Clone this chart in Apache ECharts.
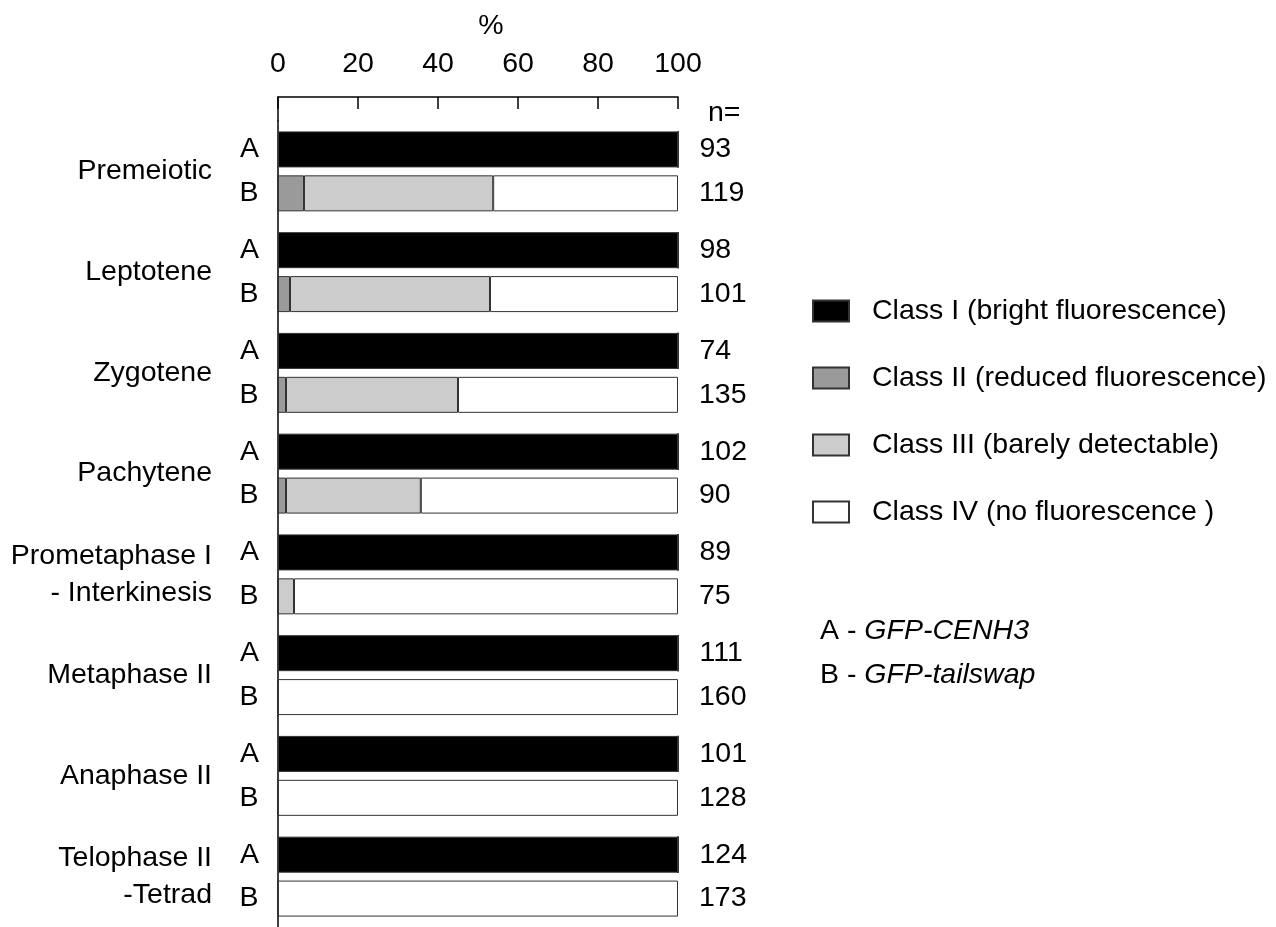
<!DOCTYPE html>
<html>
<head>
<meta charset="utf-8">
<script src="https://cdn.jsdelivr.net/npm/echarts@6/dist/echarts.min.js"></script>
<style>
  html, body { margin: 0; padding: 0; background: #fff; }
  #main { width: 1276px; height: 927px; }
</style>
</head>
<body>
<div id="main"></div>
<script>
// stages, top to bottom
const stages = ['Premeiotic', 'Leptotene', 'Zygotene', 'Pachytene',
  'Prometaphase I\n- Interkinesis', 'Metaphase II', 'Anaphase II', 'Telophase II\n-Tetrad'];

const classNames = ['Class I (bright fluorescence)', 'Class II (reduced fluorescence)',
  'Class III (barely detectable)', 'Class IV (no fluorescence )'];
const classColors = ['#000000', '#9a9a9a', '#cccccc', '#ffffff'];

// A - GFP-CENH3 (% of cells)
const classIA   = [100, 100, 100, 100, 100, 100, 100, 100];
const classIIA  = [0, 0, 0, 0, 0, 0, 0, 0];
const classIIIA = [0, 0, 0, 0, 0, 0, 0, 0];
const classIVA  = [0, 0, 0, 0, 0, 0, 0, 0];

// B - GFP-tailswap (% of cells)
const classIB   = [0, 0, 0, 0, 0, 0, 0, 0];
const classIIB  = [6.5, 3, 2, 2, 0, 0, 0, 0];
const classIIIB = [47.3, 50, 43, 33.7, 4, 0, 0, 0];
const classIVB  = [46.2, 47, 55, 64.3, 96, 100, 100, 100];

// n= counts
const nA = [93, 98, 74, 102, 89, 111, 101, 124];
const nB = [119, 101, 135, 90, 75, 160, 128, 173];

const FONT = 'Liberation Sans';
const FS = 28.5;

const chart = echarts.init(document.getElementById('main'));

function bar(stack, idx, data, extra) {
  const s = {
    name: classNames[idx],
    type: 'bar',
    stack: stack,
    xAxisIndex: 1,
    yAxisIndex: 1,
    barWidth: 36,
    barGap: '22%',
    data: data,
    itemStyle: { color: classColors[idx], borderColor: '#333', borderWidth: 1 },
    emphasis: { disabled: true },
    animation: false
  };
  return Object.assign(s, extra || {});
}

// A/B letter left of the bar, n value right of it
function letterLabel(txt) {
  return { label: { show: true, position: 'left', distance: 19, formatter: txt,
    color: '#000', fontSize: FS, fontFamily: FONT } };
}
function nLabel(arr) {
  return { label: { show: true, position: 'right', distance: 21,
    formatter: p => String(arr[p.dataIndex]),
    color: '#000', fontSize: FS, fontFamily: FONT } };
}

const series = [
  bar('A', 0, classIA, letterLabel('A')),
  bar('A', 1, classIIA),
  bar('A', 2, classIIIA),
  bar('A', 3, classIVA, nLabel(nA)),
  bar('B', 0, classIB, letterLabel('B')),
  bar('B', 1, classIIB),
  bar('B', 2, classIIIB),
  bar('B', 3, classIVB, nLabel(nB))
];

const keyRich = {
  n: { fontSize: FS, fontFamily: FONT, fontWeight: 'normal', color: '#000' },
  i: { fontSize: FS, fontFamily: FONT, fontWeight: 'normal', fontStyle: 'italic', color: '#000' }
};

const option = {
  backgroundColor: '#ffffff',
  textStyle: { fontFamily: FONT, color: '#000' },
  title: [
    { text: 'n=', left: 703, top: 94, textStyle: { fontSize: FS, fontWeight: 'normal', fontFamily: FONT, color: '#000' } },
    { text: '{n|A - }{i|GFP-CENH3}', left: 815, top: 612, textStyle: { fontWeight: 'normal', rich: keyRich } },
    { text: '{n|B - }{i|GFP-tailswap}', left: 815, top: 656, textStyle: { fontWeight: 'normal', rich: keyRich } }
  ],
  legend: {
    data: classNames.map(n => ({ name: n, icon: 'rect' })),
    orient: 'vertical',
    left: 807,
    top: 291,
    itemWidth: 36,
    itemHeight: 21,
    itemGap: 37,
    selectedMode: false,
    textStyle: { fontSize: FS, fontFamily: FONT, color: '#000', lineHeight: 30, padding: [0, 0, 0, 18] }
  },
  grid: [
    { left: 278, width: 400, top: 97, height: 24 },
    { left: 278, width: 400, top: 121, height: 810 }
  ],
  xAxis: [
    {
      gridIndex: 0, type: 'value', position: 'top', min: 0, max: 100, interval: 20,
      name: '%', nameLocation: 'middle', nameGap: 56,
      nameTextStyle: { fontSize: FS, fontFamily: FONT, color: '#000', padding: [0, 0, 0, 26] },
      axisLine: { show: true, onZero: false, lineStyle: { color: '#000', width: 1.5 } },
      axisTick: { show: true, inside: true, length: 12, lineStyle: { color: '#000', width: 1.5 } },
      axisLabel: { fontSize: FS, fontFamily: FONT, color: '#000', margin: 18 },
      splitLine: { show: false }
    },
    {
      gridIndex: 1, type: 'value', min: 0, max: 100, show: false, splitLine: { show: false }
    }
  ],
  yAxis: [
    {
      gridIndex: 0, type: 'value', min: 0, max: 1,
      axisLine: { show: true, onZero: false, lineStyle: { color: '#000', width: 1.5 } },
      axisTick: { show: false }, axisLabel: { show: false }, splitLine: { show: false }
    },
    {
      gridIndex: 1, type: 'category', inverse: true, data: stages,
      axisLine: { show: true, lineStyle: { color: '#000', width: 1.5 } },
      axisTick: { show: false },
      axisLabel: { fontSize: FS, fontFamily: FONT, color: '#000', margin: 66, lineHeight: 37, align: 'right' }
    }
  ],
  series: series
};

chart.setOption(option);
</script>
</body>
</html>
